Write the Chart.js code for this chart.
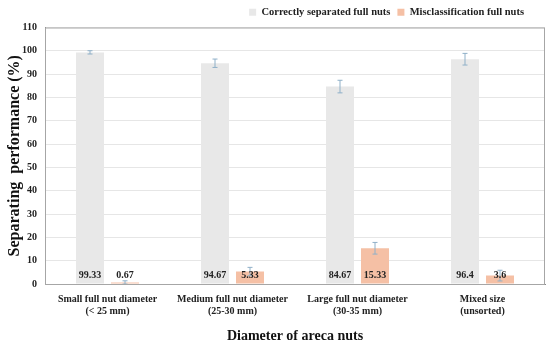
<!DOCTYPE html>
<html>
<head>
<meta charset="utf-8">
<script src="https://cdn.jsdelivr.net/npm/chart.js@4"></script>
<style>
  html, body { margin: 0; padding: 0; background: #fff; }
  #wrap { width: 550px; height: 349px; }
</style>
</head>
<body>
<div id="wrap"><canvas id="grafico"></canvas></div>
<script>
var categorias = [
  ["Small full nut diameter", "(< 25 mm)"],
  ["Medium full nut diameter", "(25-30 mm)"],
  ["Large full nut diameter", "(30-35 mm)"],
  ["Mixed size", "(unsorted)"]
];
var correctos = [99.33, 94.67, 84.67, 96.4];
var correctosError = [0.7, 1.8, 2.7, 2.5];
var errores = [0.67, 5.33, 15.33, 3.6];
var erroresError = [0.7, 1.8, 2.5, 2.3];
var etiquetasCorrectos = ["99.33", "94.67", "84.67", "96.4"];
var etiquetasErrores = ["0.67", "5.33", "15.33", "3.6"];

var serif = "'Liberation Serif', 'DejaVu Serif', serif";

// barras de error y valores dentro de las barras
var extrasPlugin = {
  id: "extras",
  afterUpdate: function (chart) {
    // correr la leyenda un poco a la izquierda
    chart.legend.right -= 14;
    chart.legend.adjustHitBoxes();
  },
  afterDatasetsDraw: function (chart) {
    var ctx = chart.ctx;
    var y = chart.scales.y;
    var area = chart.chartArea;
    var errs = [correctosError, erroresError];
    var labels = [etiquetasCorrectos, etiquetasErrores];
    ctx.save();
    chart.data.datasets.forEach(function (ds, i) {
      var meta = chart.getDatasetMeta(i);
      meta.data.forEach(function (bar, j) {
        var v = ds.data[j];
        var top = y.getPixelForValue(v + errs[i][j]);
        var bot = y.getPixelForValue(v - errs[i][j]);
        ctx.strokeStyle = "#8fb0c8";
        ctx.lineWidth = 1;
        ctx.beginPath();
        ctx.moveTo(bar.x, top); ctx.lineTo(bar.x, bot);
        ctx.moveTo(bar.x - 2.5, top); ctx.lineTo(bar.x + 2.5, top);
        ctx.moveTo(bar.x - 2.5, bot); ctx.lineTo(bar.x + 2.5, bot);
        ctx.stroke();

        ctx.fillStyle = "#222";
        ctx.font = "bold 10px " + serif;
        ctx.textAlign = "center";
        ctx.textBaseline = "middle";
        ctx.fillText(labels[i][j], bar.x, area.bottom - 9);
      });
    });
    // marco del área
    ctx.strokeStyle = "#a6a6a6";
    ctx.lineWidth = 1;
    ctx.strokeRect(area.left + 0.5, area.top + 0.5, area.right - area.left - 1, area.bottom - area.top);
    ctx.restore();
  }
};

document.addEventListener("DOMContentLoaded", function () {
  var ctx = document.getElementById("grafico").getContext("2d");
  new Chart(ctx, {
    type: "bar",
    data: {
      labels: categorias,
      datasets: [
        {
          label: "Correctly separated full nuts",
          data: correctos,
          backgroundColor: "#e8e8e8",
          categoryPercentage: 0.56,
          barPercentage: 0.8
        },
        {
          label: "Misclassification full nuts",
          data: errores,
          backgroundColor: "#f5c0a5",
          categoryPercentage: 0.56,
          barPercentage: 0.8
        }
      ]
    },
    options: {
      responsive: true,
      maintainAspectRatio: false,
      animation: false,
      layout: { padding: { left: 0, right: 5, top: 0, bottom: 0 } },
      scales: {
        x: {
          afterFit: function (s) { s.height = 65; },
          grid: { display: false },
          border: { color: "#888", width: 1 },
          ticks: {
            color: "#222",
            padding: 1,
            maxRotation: 0,
            font: { family: serif, size: 10, weight: "bold", lineHeight: 1.2 }
          },
          title: {
            display: true,
            text: "Diameter of areca nuts",
            color: "#111",
            padding: { top: 14, bottom: 4 },
            font: { family: serif, size: 14, weight: "bold" }
          }
        },
        y: {
          min: 0,
          max: 110,
          afterFit: function (s) { s.width = 45; },
          grid: { color: "#e6e6e6", drawTicks: false },
          border: { color: "#888", width: 1 },
          ticks: {
            stepSize: 10,
            color: "#222",
            padding: 8,
            font: { family: serif, size: 10, weight: "bold" }
          },
          title: {
            display: true,
            text: "Separating  performance (%)",
            color: "#111",
            padding: { top: 5, bottom: 0 },
            font: { family: serif, size: 16, weight: "bold" }
          }
        }
      },
      plugins: {
        legend: {
          align: "end",
          labels: {
            boxWidth: 7,
            boxHeight: 7,
            padding: 7,
            color: "#222",
            font: { family: serif, size: 10.5, weight: "bold" }
          }
        },
        tooltip: { enabled: false }
      }
    },
    plugins: [extrasPlugin]
  });
});
</script>
</body>
</html>
